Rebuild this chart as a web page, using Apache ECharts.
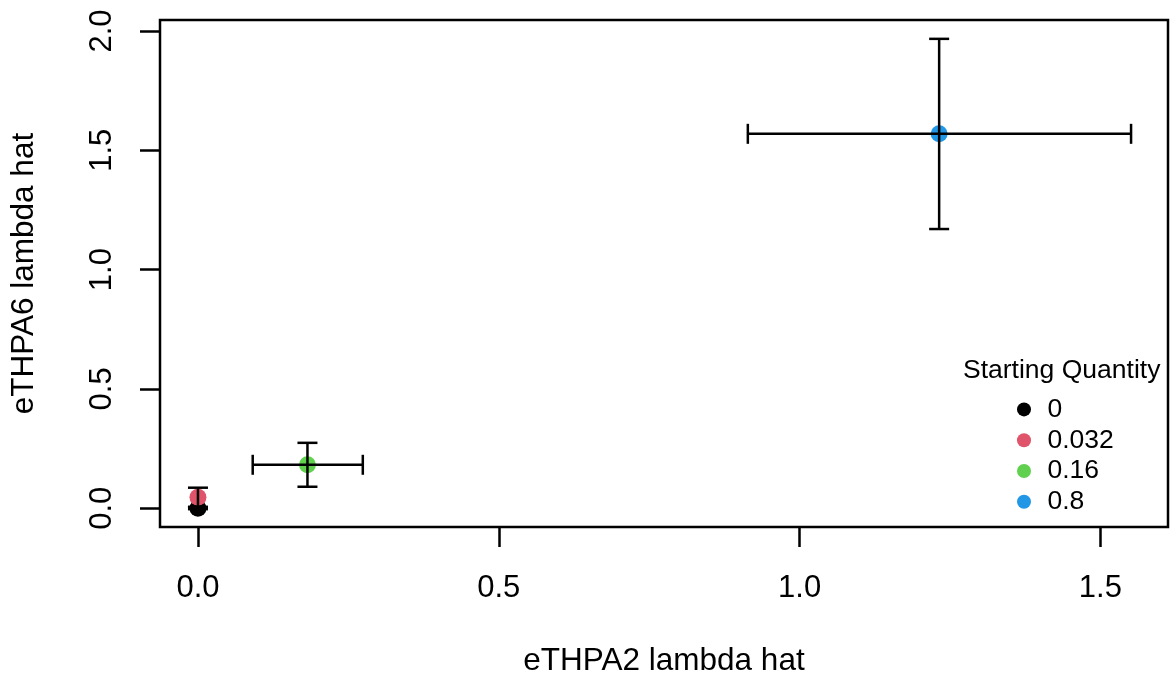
<!DOCTYPE html>
<html>
<head>
<meta charset="utf-8">
<script src="https://cdn.jsdelivr.net/npm/echarts@6/dist/echarts.min.js"></script>
<style>
html,body{margin:0;padding:0;background:#fff;}
#chart{width:1170px;height:682px;}
</style>
</head>
<body>
<div id="chart"></div>
<script>
// Data
const groups = ['0', '0.032', '0.16', '0.8'];
const colors = ['#000000', '#DF536B', '#61D04F', '#2297E6'];
const xHat = [0.0, 0.0, 0.182, 1.232];
const yHat = [0.0, 0.046, 0.182, 1.569];
const xLow = [0.0, 0.0, 0.091, 0.914];
const xHigh = [0.0, 0.0, 0.274, 1.551];
const yLow = [-0.004, 0.006, 0.090, 1.170];
const yHigh = [0.004, 0.086, 0.274, 1.967];
const xTicks = [0, 0.5, 1, 1.5];
const yTicks = [0, 0.5, 1, 1.5, 2];

const FONT = "'Liberation Sans', Arial, Helvetica, sans-serif";
const chart = echarts.init(document.getElementById('chart'), null, {renderer: 'canvas'});

const series = groups.map((g, i) => ({
  name: g,
  type: 'scatter',
  symbol: 'circle',
  symbolSize: 17,
  itemStyle: {color: colors[i], opacity: 1},
  data: [[xHat[i], yHat[i]]],
  z: 2,
  silent: true
}));

const errData = groups.map((g, i) => [xHat[i], yHat[i], xLow[i], xHigh[i], yLow[i], yHigh[i]]);
series.push({
  type: 'custom',
  z: 5,
  silent: true,
  data: errData,
  renderItem: function (params, api) {
    const x = api.value(0), y = api.value(1);
    const xl = api.value(2), xh = api.value(3), yl = api.value(4), yh = api.value(5);
    const cap = 10;
    const st = {stroke: '#000', lineWidth: 2.5, fill: null};
    const kids = [];
    if (xh > xl) {
      const a = api.coord([xl, y]), b = api.coord([xh, y]);
      kids.push({type: 'line', shape: {x1: a[0], y1: a[1], x2: b[0], y2: b[1]}, style: st});
      kids.push({type: 'line', shape: {x1: a[0], y1: a[1] - cap, x2: a[0], y2: a[1] + cap}, style: st});
      kids.push({type: 'line', shape: {x1: b[0], y1: b[1] - cap, x2: b[0], y2: b[1] + cap}, style: st});
    }
    if (yh > yl) {
      const a = api.coord([x, yl]), b = api.coord([x, yh]);
      kids.push({type: 'line', shape: {x1: a[0], y1: a[1], x2: b[0], y2: b[1]}, style: st});
      kids.push({type: 'line', shape: {x1: a[0] - cap, y1: a[1], x2: a[0] + cap, y2: a[1]}, style: st});
      kids.push({type: 'line', shape: {x1: b[0] - cap, y1: b[1], x2: b[0] + cap, y2: b[1]}, style: st});
    }
    return {type: 'group', children: kids};
  }
});

const option = {
  backgroundColor: '#ffffff',
  animation: false,
  textStyle: {fontFamily: FONT},
  grid: {
    left: 158, right: 2, top: 20, bottom: 151,
    show: true, borderColor: '#000', borderWidth: 2.5, backgroundColor: 'transparent'
  },
  xAxis: {
    type: 'value',
    min: -0.0631, max: 1.6124,
    name: 'eTHPA2 lambda hat',
    nameLocation: 'middle',
    nameGap: 118,
    nameTextStyle: {fontSize: 31.5, color: '#000', fontFamily: FONT},
    axisLine: {show: false, onZero: false},
    splitLine: {show: false},
    axisTick: {show: true, inside: false, length: 20, lineStyle: {color: '#000', width: 2.5}, customValues: xTicks},
    axisLabel: {
      show: true, margin: 46, fontSize: 31, color: '#000', fontFamily: FONT,
      customValues: xTicks,
      formatter: v => v.toFixed(1)
    }
  },
  yAxis: {
    type: 'value',
    min: -0.0787, max: 2.046,
    name: 'eTHPA6 lambda hat',
    nameLocation: 'middle',
    nameGap: 120,
    nameRotate: 90,
    nameTextStyle: {fontSize: 31.5, color: '#000', fontFamily: FONT},
    axisLine: {show: false, onZero: false},
    splitLine: {show: false},
    axisTick: {show: true, inside: false, length: 20, lineStyle: {color: '#000', width: 2.5}, customValues: yTicks},
    axisLabel: {
      show: true, margin: 42, fontSize: 31, color: '#000', fontFamily: FONT, rotate: 90,
      customValues: yTicks,
      formatter: v => v.toFixed(1)
    }
  },
  legend: {
    show: true,
    orient: 'vertical',
    left: 1017, top: 394,
    itemWidth: 37, itemHeight: 14, itemGap: 0,
    icon: 'circle',
    data: groups,
    textStyle: {fontSize: 26.5, lineHeight: 30.8, color: '#000', fontFamily: FONT, padding: 0},
    selectedMode: false,
    padding: 0
  },
  graphic: [{
    type: 'text',
    left: 963, top: 357,
    style: {text: 'Starting Quantity', font: "26.5px 'Liberation Sans', Arial, sans-serif", fill: '#000'}
  }],
  series: series
};
chart.setOption(option);
</script>
</body>
</html>
